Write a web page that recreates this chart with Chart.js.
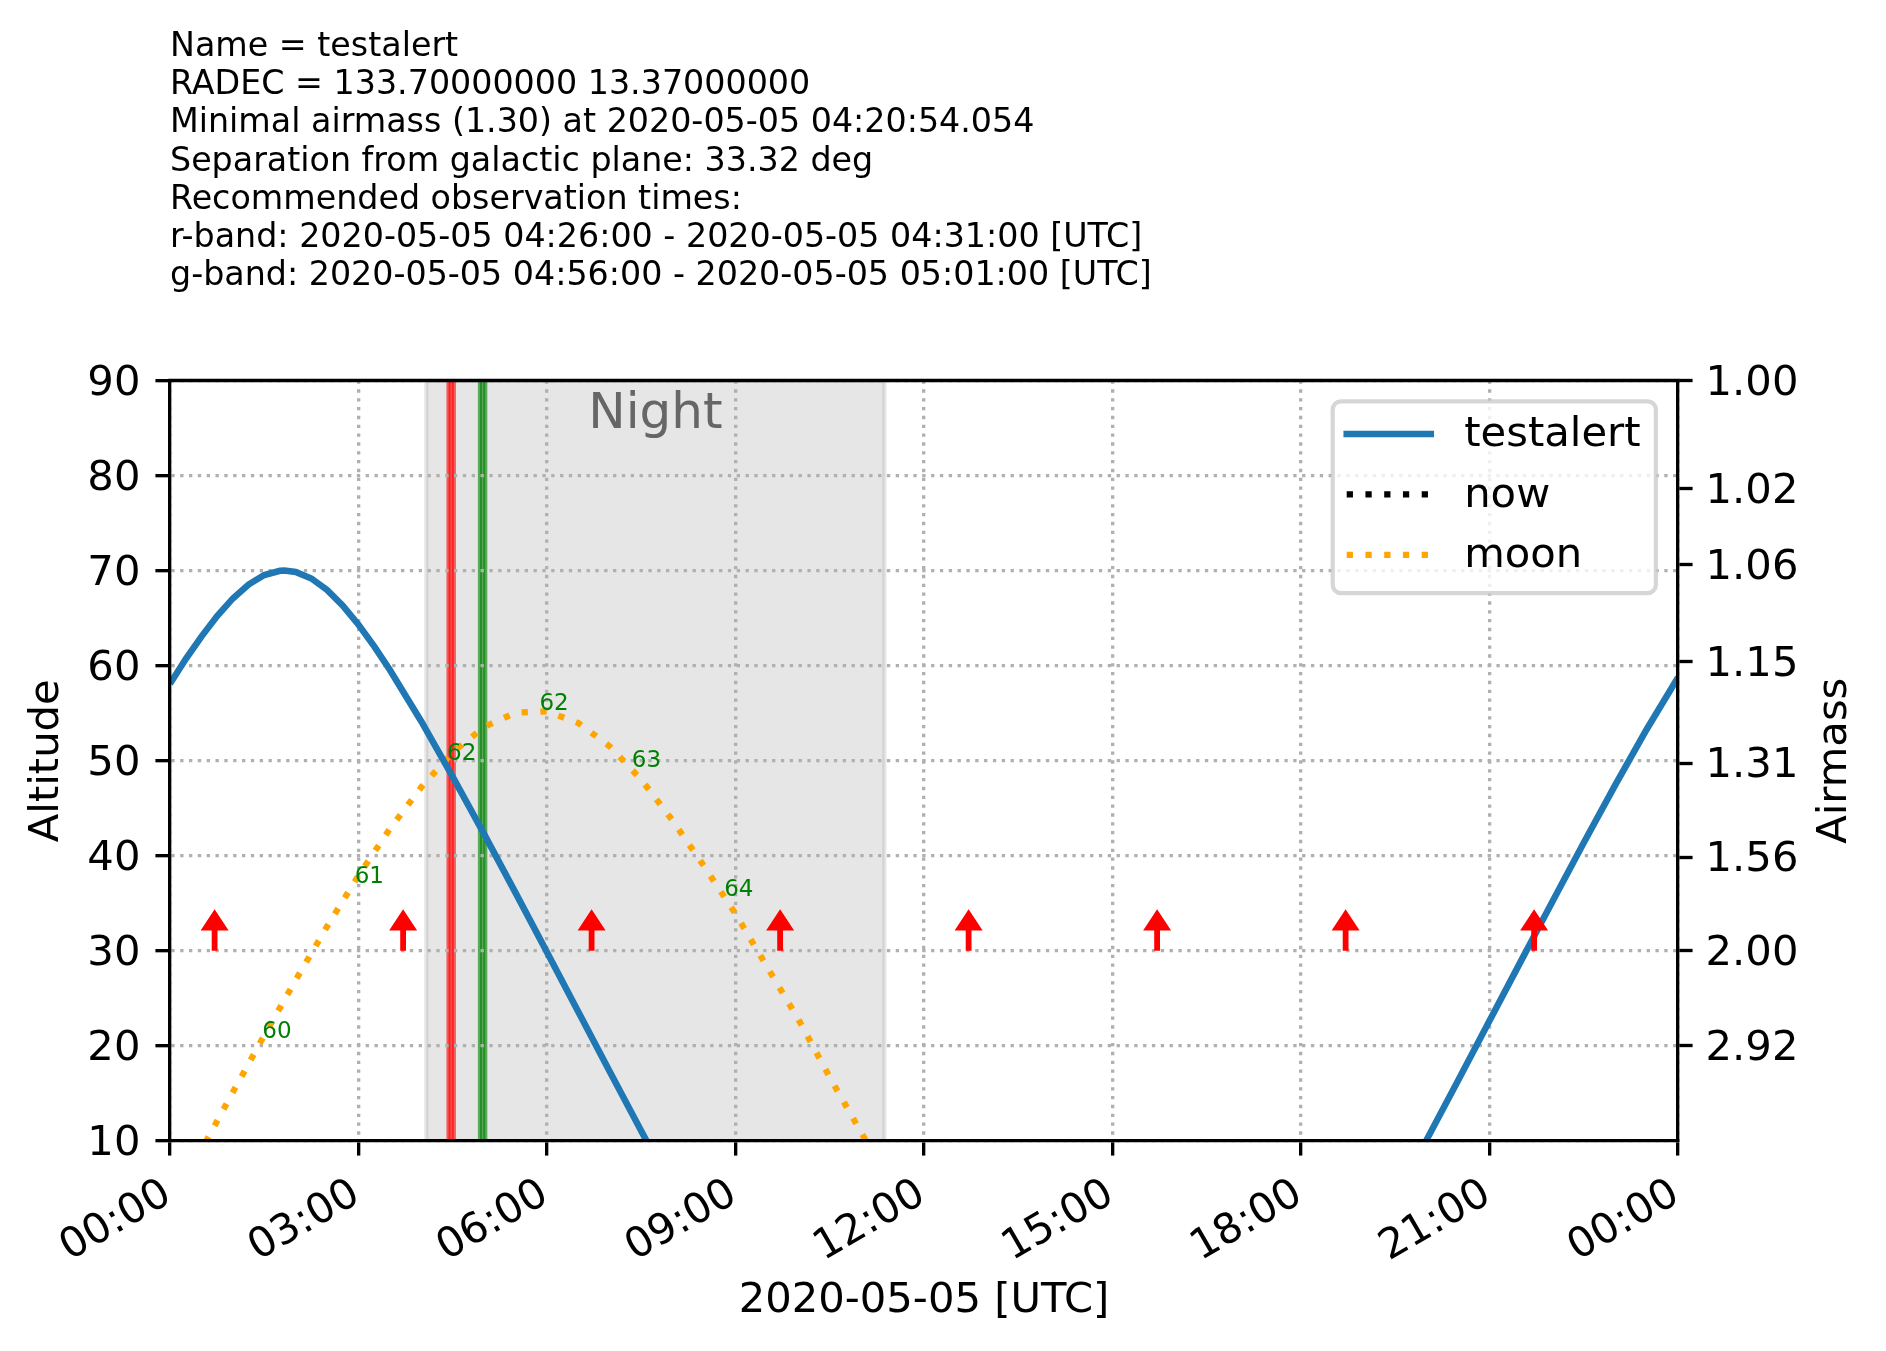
<!DOCTYPE html>
<html>
<head>
<meta charset="utf-8">
<title>testalert visibility</title>
<script src="https://cdn.jsdelivr.net/npm/chart.js@4.4.1/dist/chart.umd.min.js"></script>
<style>
  html, body { margin: 0; padding: 0; background: #fff; }
  canvas { display: block; }
</style>
</head>
<body>
<canvas id="chart" width="1886" height="1351"></canvas>
<script>
const headerLines = [
    "Name = testalert",
    "RADEC = 133.70000000 13.37000000",
    "Minimal airmass (1.30) at 2020-05-05 04:20:54.054",
    "Separation from galactic plane: 33.32 deg",
    "Recommended observation times:",
    "r-band: 2020-05-05 04:26:00 - 2020-05-05 04:31:00 [UTC]",
    "g-band: 2020-05-05 04:56:00 - 2020-05-05 05:01:00 [UTC]"
];

// all times are hours after 2020-05-05 00:00 UTC
const targetName = "testalert";
const targetTimes = [0, 0.25, 0.5, 0.75, 1, 1.25, 1.5, 1.75, 1.82, 2, 2.25, 2.5, 2.75, 3, 3.25, 3.5, 4, 4.5, 5, 5.5, 6, 6.5, 7, 7.5, 8,
    12, 19.5, 20, 20.5, 21, 21.5, 22, 22.5, 23, 23.5, 24];
const targetAlt = [58.09, 60.69, 63.06, 65.21, 67.07, 68.53, 69.53, 69.98, 70.0, 69.86, 69.17, 67.96, 66.31, 64.31, 62.02, 59.55,
    54.13, 48.31, 42.28, 36.10, 29.85, 23.57, 17.29, 11.06, 4.89,
    null, 3.97, 10.14, 16.37, 22.64, 28.92, 35.17, 41.38, 47.43, 53.29, 58.76];

const moonTimes = [0, 0.5, 1, 1.5, 2, 2.5, 3, 3.5, 4, 4.5, 5, 5.5, 6, 6.5, 7, 7.5, 8, 8.5, 9, 9.5, 10, 10.5, 11, 11.5];
const moonAlt = [2.93, 9.06, 15.13, 21.11, 26.93, 32.57, 37.92, 42.84, 47.23, 50.88, 53.56, 55.05,
    55.19, 53.97, 51.50, 48.02, 43.7, 38.9, 33.9, 28.35, 22.8, 16.7, 10.9, 5.1];

const moonLabelTimes = [1.47, 2.94, 4.41, 5.88, 7.35, 8.82];
const moonLabelAlts = [20.8, 37.1, 50.1, 55.3, 49.3, 35.8];
const moonLabelTexts = ["60", "61", "62", "62", "63", "64"];

const arrowTimes = [0.71, 3.71, 6.71, 9.71, 12.71, 15.71, 18.71, 21.71];
const arrowBaseAlt = 30;
const arrowTipAlt = 34.38;

const nightSpan = [4.08, 11.37];
const rBand = [4.433, 4.517];
const gBand = [4.933, 5.017];
const nightLabelAlt = 84.97;

const hourTicks = [0, 3, 6, 9, 12, 15, 18, 21, 24];
const hourLabels = ["00:00", "03:00", "06:00", "09:00", "12:00", "15:00", "18:00", "21:00", "00:00"];
const altTicks = [10, 20, 30, 40, 50, 60, 70, 80, 90];
const airmassTickAlts = [90, 78.64, 70.63, 60.41, 49.76, 39.87, 30.00, 20.03];
const airmassTickLabels = ["1.00", "1.02", "1.06", "1.15", "1.31", "1.56", "2.00", "2.92"];

const FONT = "DejaVu Sans";
const tickFont = { family: FONT, size: 41.7 };
const pt = 4.167; // pixels per point

function pairs(xs, ys) {
    return xs.map((t, i) => ({ x: t, y: ys[i] }));
}

const overlay = {
    id: "overlay",
    beforeDraw(chart) {
        const { ctx, chartArea: a, scales: { x } } = chart;
        ctx.save();
        ctx.fillStyle = "#fff";
        ctx.fillRect(0, 0, chart.width, chart.height);
        ctx.beginPath();
        ctx.rect(a.left, a.top, a.right - a.left, a.bottom - a.top);
        ctx.clip();
        const span = (range, rgb, alpha) => {
            const x0 = x.getPixelForValue(range[0]);
            const x1 = x.getPixelForValue(range[1]);
            ctx.fillStyle = "rgba(" + rgb + "," + alpha + ")";
            ctx.fillRect(x0, a.top, x1 - x0, a.bottom - a.top);
            ctx.strokeStyle = ctx.fillStyle;
            ctx.lineWidth = pt;
            ctx.strokeRect(x0, a.top, x1 - x0, a.bottom - a.top);
        };
        span(nightSpan, "128,128,128", 0.2);
        span(rBand, "255,0,0", 0.6);
        span(gBand, "0,128,0", 0.6);
        ctx.restore();
    },
    afterDatasetsDraw(chart) {
        const { ctx, chartArea: a, scales: { x, y } } = chart;
        ctx.save();

        // Night label
        ctx.fillStyle = "#666666";
        ctx.font = "50px " + FONT;
        ctx.textAlign = "center";
        ctx.textBaseline = "alphabetic";
        ctx.fillText("Night", x.getPixelForValue((nightSpan[0] + nightSpan[1]) / 2), y.getPixelForValue(nightLabelAlt));

        // moon labels
        ctx.fillStyle = "#008000";
        ctx.font = "23px " + FONT;
        ctx.textAlign = "left";
        moonLabelTimes.forEach((t, i) => {
            ctx.fillText(moonLabelTexts[i], x.getPixelForValue(t), y.getPixelForValue(moonLabelAlts[i]));
        });

        // red arrows
        ctx.fillStyle = "#ff0000";
        const headLen = 21.2, headHalf = 14, shaftHalf = 2.9;
        arrowTimes.forEach(t => {
            const px = x.getPixelForValue(t);
            const yb = y.getPixelForValue(arrowBaseAlt);
            const yt = y.getPixelForValue(arrowTipAlt);
            ctx.beginPath();
            ctx.moveTo(px - shaftHalf, yb);
            ctx.lineTo(px - shaftHalf, yt + headLen);
            ctx.lineTo(px - headHalf, yt + headLen);
            ctx.lineTo(px, yt);
            ctx.lineTo(px + headHalf, yt + headLen);
            ctx.lineTo(px + shaftHalf, yt + headLen);
            ctx.lineTo(px + shaftHalf, yb);
            ctx.closePath();
            ctx.fill();
        });

        // top spine
        ctx.strokeStyle = "#000";
        ctx.lineWidth = 0.8 * pt;
        ctx.beginPath();
        ctx.moveTo(a.left - 1.7, a.top);
        ctx.lineTo(a.right + 1.7, a.top);
        ctx.stroke();
        ctx.restore();
    },
    afterDraw(chart) {
        const { ctx, chartArea: a } = chart;
        ctx.save();

        // right axis title, reading upwards like the left one
        ctx.fillStyle = "#000";
        ctx.font = "41.7px " + FONT;
        ctx.textAlign = "center";
        ctx.textBaseline = "middle";
        ctx.translate(1835, (a.top + a.bottom) / 2);
        ctx.rotate(-Math.PI / 2);
        ctx.fillText("Airmass", 0, 0);
        ctx.restore();

        // legend box in the upper right corner
        ctx.save();
        const w = 323.2, h = 191.8, r = 8.3;
        const lx = a.right - 22.1 - w;
        const ly = a.top + 20.9;
        ctx.beginPath();
        ctx.roundRect(lx, ly, w, h, r);
        ctx.fillStyle = "rgba(255,255,255,0.8)";
        ctx.fill();
        ctx.strokeStyle = "rgba(204,204,204,0.8)";
        ctx.lineWidth = pt;
        ctx.stroke();

        const rows = [32.6, 92.9, 153.6];
        ctx.font = "41.7px " + FONT;
        ctx.textAlign = "left";
        ctx.textBaseline = "middle";
        chart.data.datasets.forEach((ds, i) => {
            const ry = ly + rows[i];
            ctx.strokeStyle = ds.borderColor;
            ctx.lineWidth = ds.borderWidth;
            const dash = ds.borderDash || [];
            ctx.setLineDash(dash);
            ctx.lineCap = dash.length ? "butt" : "square";
            ctx.beginPath();
            ctx.moveTo(lx + 14, ry);
            ctx.lineTo(lx + 98.1, ry);
            ctx.stroke();
            ctx.setLineDash([]);
            ctx.fillStyle = "#000";
            ctx.fillText(ds.label, lx + 131.5, ry + 1.5);
        });
        ctx.restore();
    }
};

Chart.defaults.font.family = FONT;

const ctx = document.getElementById("chart");
const chart = new Chart(ctx, {
    type: "line",
    data: {
        datasets: [{
            label: targetName,
            data: pairs(targetTimes, targetAlt),
            borderColor: "#1f77b4",
            borderWidth: 6.5,
            pointRadius: 0,
            tension: 0,
            clip: 0,
            yAxisID: "y"
        }, {
            label: "now",
            data: [],
            borderColor: "#000000",
            borderWidth: 6.25,
            borderDash: [6.25, 12.5],
            pointRadius: 0,
            yAxisID: "y"
        }, {
            label: "moon",
            data: pairs(moonTimes, moonAlt),
            borderColor: "#ffa500",
            borderWidth: 6.25,
            borderDash: [6.25, 12.5],
            borderCapStyle: "butt",
            pointRadius: 0,
            tension: 0,
            clip: 0,
            yAxisID: "y"
        }]
    },
    options: {
        responsive: false,
        animation: false,
        devicePixelRatio: 1,
        layout: { padding: 0 },
        plugins: {
            legend: { display: false },
            tooltip: { enabled: false },
            title: {
                display: true,
                text: headerLines,
                align: "start",
                fullSize: false,
                color: "#000",
                font: { family: FONT, size: 33.3, weight: "normal", lineHeight: 1.15 },
                padding: { top: 27.9, bottom: 84.5 }
            }
        },
        scales: {
            x: {
                type: "linear",
                min: 0,
                max: 24,
                afterBuildTicks: s => { s.ticks = hourTicks.map(v => ({ value: v })); },
                afterFit: s => { s.height = 210; },
                ticks: {
                    autoSkip: false,
                    minRotation: 30,
                    maxRotation: 30,
                    padding: 14,
                    labelOffset: -2,
                    color: "#000",
                    font: tickFont,
                    callback: (v, i) => hourLabels[i]
                },
                grid: { color: "#b0b0b0", lineWidth: 0.8 * pt, tickLength: 3.5 * pt, tickWidth: 0.8 * pt, tickColor: "#000" },
                border: { color: "#000", width: 0.8 * pt, dash: [0.8 * pt, 1.32 * pt], z: 1 },
                title: {
                    display: true,
                    text: "2020-05-05 [UTC]",
                    color: "#000",
                    font: tickFont,
                    padding: { top: 0, bottom: 25 }
                }
            },
            y: {
                position: "left",
                min: 10,
                max: 90,
                afterBuildTicks: s => { s.ticks = altTicks.map(v => ({ value: v })); },
                afterFit: s => { s.width = 170; },
                ticks: { color: "#000", font: tickFont, padding: 15, labelOffset: 3.5, autoSkip: false },
                grid: { color: "#b0b0b0", lineWidth: 0.8 * pt, tickLength: 3.5 * pt, tickWidth: 0.8 * pt, tickColor: "#000" },
                border: { color: "#000", width: 0.8 * pt, dash: [0.8 * pt, 1.32 * pt], z: 1 },
                title: {
                    display: true,
                    text: "Altitude",
                    color: "#000",
                    font: tickFont,
                    padding: { top: 22.3, bottom: 0 }
                }
            },
            y2: {
                position: "right",
                min: 10,
                max: 90,
                afterBuildTicks: s => { s.ticks = airmassTickAlts.map(v => ({ value: v })); },
                afterFit: s => { s.width = 208; },
                ticks: {
                    color: "#000",
                    font: tickFont,
                    padding: 13,
                    labelOffset: 3.5,
                    autoSkip: false,
                    callback: (v, i) => airmassTickLabels[i]
                },
                grid: { drawOnChartArea: false, tickLength: 3.5 * pt, tickWidth: 0.8 * pt, tickColor: "#000" },
                border: { color: "#000", width: 0.8 * pt, z: 1 }
            }
        }
    },
    plugins: [overlay]
});
</script>
</body>
</html>
